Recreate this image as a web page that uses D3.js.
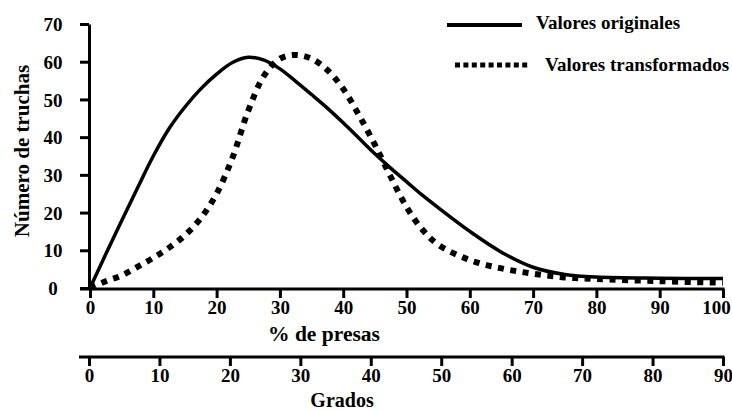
<!DOCTYPE html>
<html>
<head>
<meta charset="utf-8">
<script src="https://cdn.jsdelivr.net/npm/d3@7"></script>
<style>
  body { margin: 0; background: #fff; }
</style>
</head>
<body>
<script>
/* ------------------------------- Chart data ------------------------------- */
const presas = [0, 2.5, 5, 7.5, 10, 12.5, 15, 17.5, 20, 22.5, 25, 27.5, 30, 32.5, 35, 37.5, 40, 42.5, 45, 47.5, 50, 52.5, 55, 60, 65, 70, 75, 80, 90, 100];
const originales = [0, 9, 17.8, 26.5, 35, 42.3, 48, 52.8, 56.7, 59.8, 61.2, 60.4, 58.1, 54.8, 51.3, 47.7, 43.8, 39.7, 35.6, 31.8, 28.2, 24.6, 21.3, 15, 9.5, 5.5, 3.6, 2.9, 2.6, 2.5];
const transformados = [0, 1.8, 3.3, 5.6, 8, 10.7, 14, 18.5, 25, 34.5, 47, 56.3, 60.8, 61.8, 60.8, 57.8, 52.8, 45.8, 38, 29.5, 21.5, 15.5, 11.5, 7.4, 5.2, 3.8, 2.8, 2.4, 1.8, 1.4];
const yTicks = [0, 10, 20, 30, 40, 50, 60, 70];
const presasTicks = [0, 10, 20, 30, 40, 50, 60, 70, 80, 90, 100];
const gradosTicks = [0, 10, 20, 30, 40, 50, 60, 70, 80, 90];
const seriesNames = ["Valores originales", "Valores transformados"];

/* ------------------------------ Layout ------------------------------ */
const width = 732, height = 410;
const tickLen = 9;
const fontFam = "Liberation Serif, DejaVu Serif, serif";
const svg = d3.select("body").append("svg").attr("width", width).attr("height", height)
  .attr("font-family", fontFam);

const x = d3.scaleLinear().domain([0, 100]).range([90, 723]);
const xG = d3.scaleLinear().domain([0, 90]).range([89, 723]);
const y = d3.scaleLinear().domain([0, 70]).range([288, 24]);

const axis1Y = y(0) + 1;
const axis2Y = 357;

function serif(sel, size) {
  return sel.attr("font-family", fontFam).attr("font-weight", "bold")
    .attr("font-size", size).attr("fill", "#000");
}

/* ------------------------------ Y axis ------------------------------ */
const gy = svg.append("g").attr("transform", `translate(${x(0) - 1},0)`)
  .call(d3.axisLeft(y).tickValues(yTicks).tickSize(tickLen).tickSizeOuter(0));
gy.attr("font-family", fontFam);
gy.select(".domain").attr("stroke-width", 3);
gy.selectAll(".tick line").attr("stroke-width", 3);
serif(gy.selectAll(".tick text"), 19).attr("text-anchor", "middle").attr("x", -36).attr("dy", "0.35em");

/* ------------------------------ X axes ------------------------------ */
function bottomAxis(scale, ticks, ypos, title, titleX, titleY, titleLen) {
  const g = svg.append("g").attr("transform", `translate(0,${ypos})`)
    .call(d3.axisBottom(scale).tickValues(ticks).tickSize(tickLen).tickPadding(3).tickSizeOuter(0));
  g.attr("font-family", fontFam);
  g.select(".domain").remove();
  g.append("line")
    .attr("x1", scale.range()[0] - tickLen - 1).attr("x2", scale.range()[1] + 1.5)
    .attr("stroke", "#000").attr("stroke-width", 3);
  g.selectAll(".tick line").attr("stroke-width", 3);
  serif(g.selectAll(".tick text"), 19);
  const t = serif(svg.append("text"), 20).attr("x", titleX).attr("y", titleY)
    .attr("text-anchor", "middle").text(title);
  if (titleLen) t.attr("textLength", titleLen).attr("lengthAdjust", "spacingAndGlyphs");
  return g;
}
const gx1 = bottomAxis(x, presasTicks, axis1Y, "% de presas", 324, 341, 112);
gx1.selectAll(".tick text").filter(d => d === 100).attr("dx", -7);
bottomAxis(xG, gradosTicks, axis2Y, "Grados", 342, 407, null);

/* ------------------------------ Y title ------------------------------ */
serif(svg.append("text"), 21)
  .attr("transform", "translate(29,151) rotate(-90)")
  .attr("text-anchor", "middle")
  .text("Número de truchas");

/* ------------------------------ Curves ------------------------------ */
const line = d3.line().x((d, i) => x(presas[i])).y(d => y(d)).curve(d3.curveCatmullRom.alpha(0.5));

svg.append("path").datum(transformados)
  .attr("d", line).attr("fill", "none").attr("stroke", "#000")
  .attr("stroke-width", 6).attr("stroke-dasharray", "6,6.5");

svg.append("path").datum(originales)
  .attr("d", line).attr("fill", "none").attr("stroke", "#000")
  .attr("stroke-width", 3.5);

/* ------------------------------ Legend ------------------------------ */
const legend = svg.append("g");
legend.append("line").attr("x1", 447).attr("x2", 522).attr("y1", 25).attr("y2", 25)
  .attr("stroke", "#000").attr("stroke-width", 4);
serif(legend.append("text"), 19).attr("x", 536).attr("y", 29).text(seriesNames[0]);
legend.append("line").attr("x1", 455).attr("x2", 528).attr("y1", 65).attr("y2", 65)
  .attr("stroke", "#000").attr("stroke-width", 5).attr("stroke-dasharray", "5,3.4");
serif(legend.append("text"), 19).attr("x", 545).attr("y", 71).text(seriesNames[1]);
</script>
</body>
</html>
